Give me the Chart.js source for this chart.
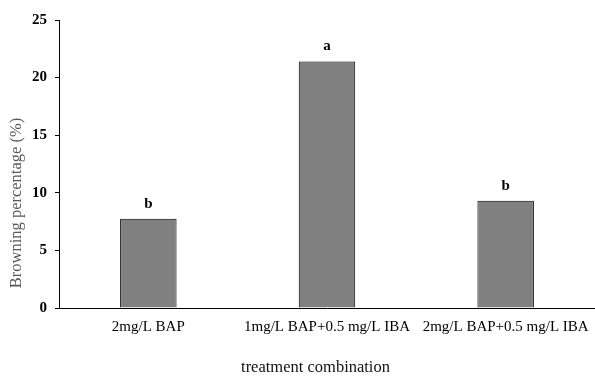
<!DOCTYPE html>
<html>
<head>
<meta charset="utf-8">
<script src="https://cdn.jsdelivr.net/npm/chart.js@4/dist/chart.umd.min.js"></script>
<style>
  html, body { margin: 0; padding: 0; background: #fff; }
  #wrap { width: 595px; height: 376px; position: relative; }
</style>
</head>
<body>
<div id="wrap"><canvas id="c" width="595" height="376"></canvas></div>
<script>
const categories = ['2mg/L BAP', '1mg/L BAP+0.5 mg/L IBA', '2mg/L BAP+0.5 mg/L IBA'];
const browning = [7.75, 21.4, 9.3];
const sigLetters = ['b', 'a', 'b'];
const yTicks = [0, 5, 10, 15, 20, 25];
const xTitle = 'treatment combination';
const yTitle = 'Browning percentage (%)';

const SERIF = '"Liberation Serif", "Times New Roman", serif';

const annotate = {
  id: 'annotate',
  afterDatasetsDraw(chart) {
    const ctx = chart.ctx;
    const meta = chart.getDatasetMeta(0);
    ctx.save();
    ctx.fillStyle = '#000';
    ctx.font = 'bold 15px ' + SERIF;
    ctx.textAlign = 'center';
    ctx.textBaseline = 'middle';
    meta.data.forEach((bar, i) => {
      ctx.fillText(sigLetters[i], bar.x, bar.y - 15);
    });
    const area = chart.chartArea;
    // x-axis title
    ctx.font = '16.5px ' + SERIF;
    ctx.fillStyle = '#111';
    ctx.fillText(xTitle, area.left + 256.5, area.bottom + 60);
    // y-axis title
    ctx.fillStyle = '#595959';
    ctx.translate(17, area.top + 183);
    ctx.rotate(-Math.PI / 2);
    ctx.fillText(yTitle, 0, 0);
    ctx.restore();
  }
};

new Chart(document.getElementById('c'), {
  type: 'bar',
  data: {
    labels: categories,
    datasets: [{
      data: browning,
      backgroundColor: '#808080',
      borderColor: '#000000',
      borderWidth: 1,
      barPercentage: 0.316,
      categoryPercentage: 1.0
    }]
  },
  options: {
    responsive: false,
    animation: false,
    devicePixelRatio: 1,
    layout: { padding: { top: 20, right: 0, left: 0, bottom: 0 } },
    plugins: {
      legend: { display: false },
      tooltip: { enabled: false }
    },
    scales: {
      x: {
        grid: { display: false },
        border: { display: true, color: '#000', width: 1 },
        ticks: {
          color: '#000',
          font: { family: SERIF, size: 15 },
          padding: 2,
          maxRotation: 0,
          autoSkip: false
        },
        afterFit(scale) { scale.height = 68; }
      },
      y: {
        min: 0,
        max: 25,
        afterBuildTicks(scale) { scale.ticks = yTicks.map(v => ({ value: v })); },
        grid: {
          display: true,
          drawOnChartArea: false,
          drawTicks: true,
          tickLength: 4,
          color: '#000'
        },
        border: { display: true, color: '#000', width: 1 },
        ticks: {
          color: '#000',
          font: { family: SERIF, size: 15, weight: 'bold' },
          padding: 8
        },
        afterFit(scale) { scale.width = 59; }
      }
    }
  },
  plugins: [annotate]
});
</script>
</body>
</html>
